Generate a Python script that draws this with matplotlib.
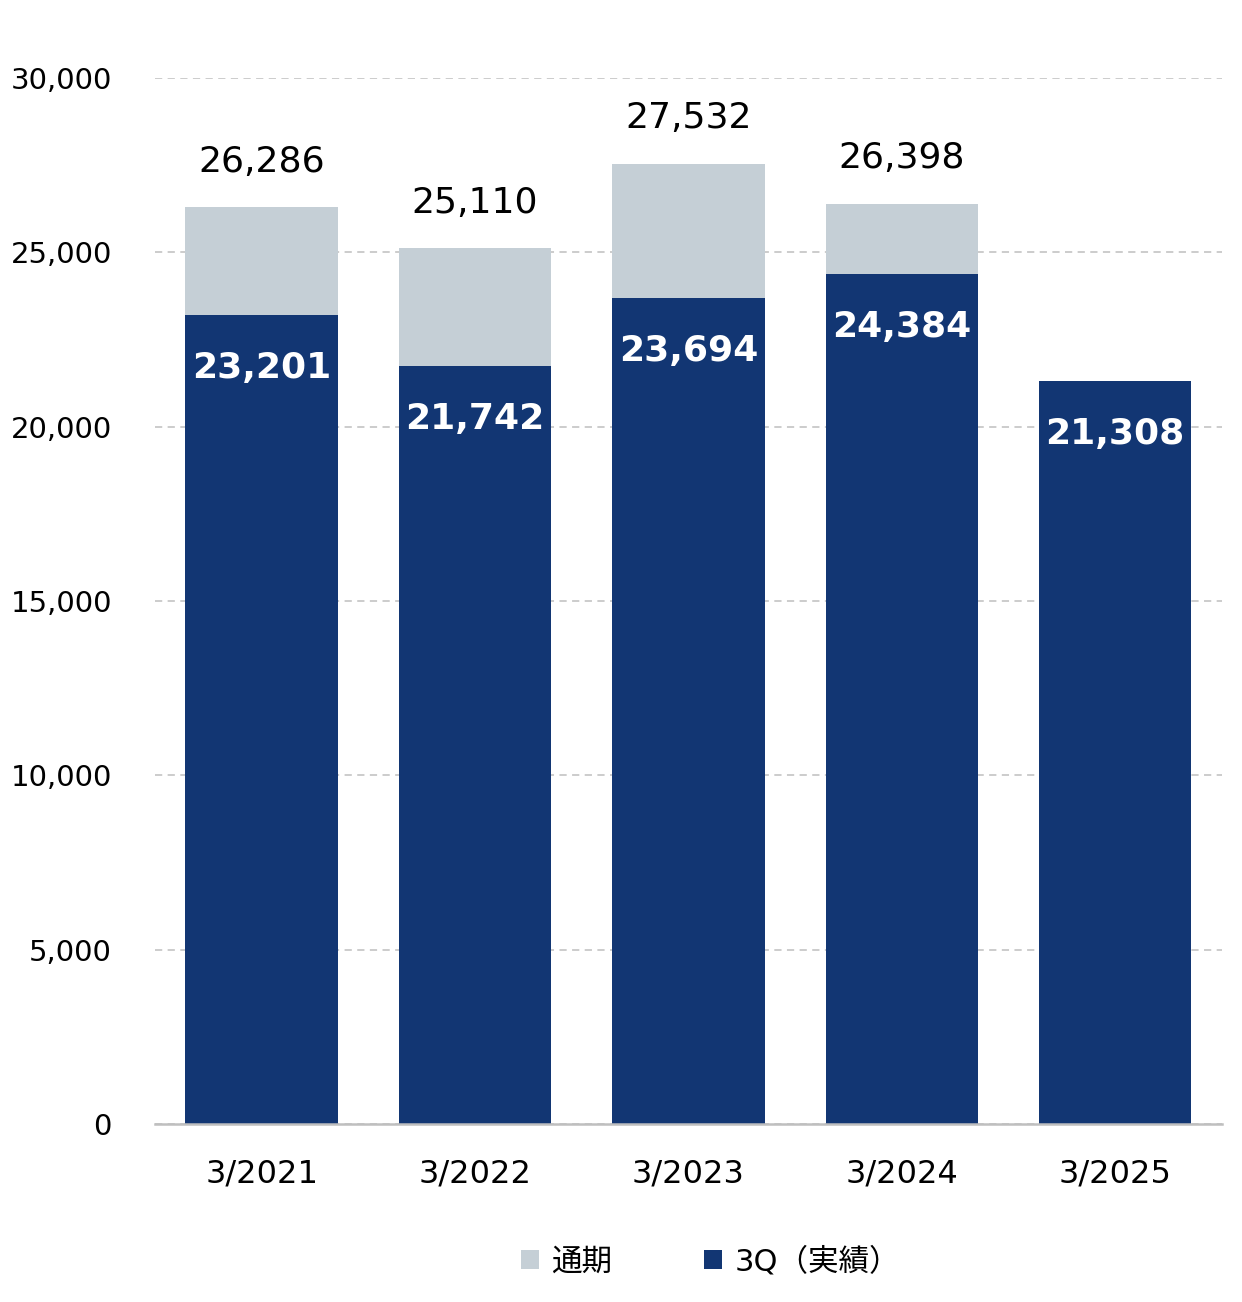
import numpy as np
import matplotlib
matplotlib.use('Agg')
import matplotlib.pyplot as plt
from matplotlib.patches import Patch

plt.rcParams['font.family'] = ['DejaVu Sans', 'Noto Sans CJK JP']

years = ['3/2021', '3/2022', '3/2023', '3/2024', '3/2025']
full_year = [26286, 25110, 27532, 26398, None]
q3_actual = [23201, 21742, 23694, 24384, 21308]

navy = '#123673'
gray = '#C5CFD6'

fig = plt.figure(figsize=(12.42, 13.02), dpi=100)
ax = fig.add_axes([0.1248, 0.1367, 0.859, 0.8034])

x = np.arange(len(years))
w = 0.715

fy = [v if v is not None else 0 for v in full_year]
ax.bar(x, fy, width=w, color=gray, zorder=2)
ax.bar(x, q3_actual, width=w, color=navy, zorder=3)

for i, v in enumerate(full_year):
    if v is None:
        continue
    ax.annotate(f'{v:,}', (x[i], v), xytext=(0, 33), textcoords='offset points',
                ha='center', va='center', fontsize=26, color='black')
for i, v in enumerate(q3_actual):
    ax.annotate(f'{v:,}', (x[i], v), xytext=(0, -38), textcoords='offset points',
                ha='center', va='center', fontsize=26, color='white',
                fontweight='bold', zorder=4)

ax.set_xlim(-0.5, 4.5)
ax.set_ylim(0, 30000)
ax.set_yticks(np.arange(0, 30001, 5000))
ax.set_yticklabels([f'{t:,}' for t in range(0, 30001, 5000)], fontsize=21)
ax.set_xticks(x)
ax.set_xticklabels(years, fontsize=23)
ax.tick_params(axis='both', length=0)
ax.tick_params(axis='y', pad=31)
ax.tick_params(axis='x', pad=25)

ax.yaxis.grid(True, linestyle=(0, (4, 3)), color='#C8C8C8', linewidth=1.3, zorder=0)
ax.set_axisbelow(True)
for s in ['top', 'right', 'left']:
    ax.spines[s].set_visible(False)
ax.spines['bottom'].set_color('#BFBFBF')
ax.spines['bottom'].set_linewidth(1.8)
ax.spines['bottom'].set_zorder(5)

handles = [Patch(facecolor=gray, label='通期'),
           Patch(facecolor=navy, label='3Q（実績）')]
fig.legend(handles=handles, loc='center', bbox_to_anchor=(0.572, 0.031), ncol=2,
           frameon=False, fontsize=22, handlelength=0.6, handleheight=0.6,
           handletextpad=0.4, columnspacing=3.0)

fig.savefig('out.png', dpi=100)
